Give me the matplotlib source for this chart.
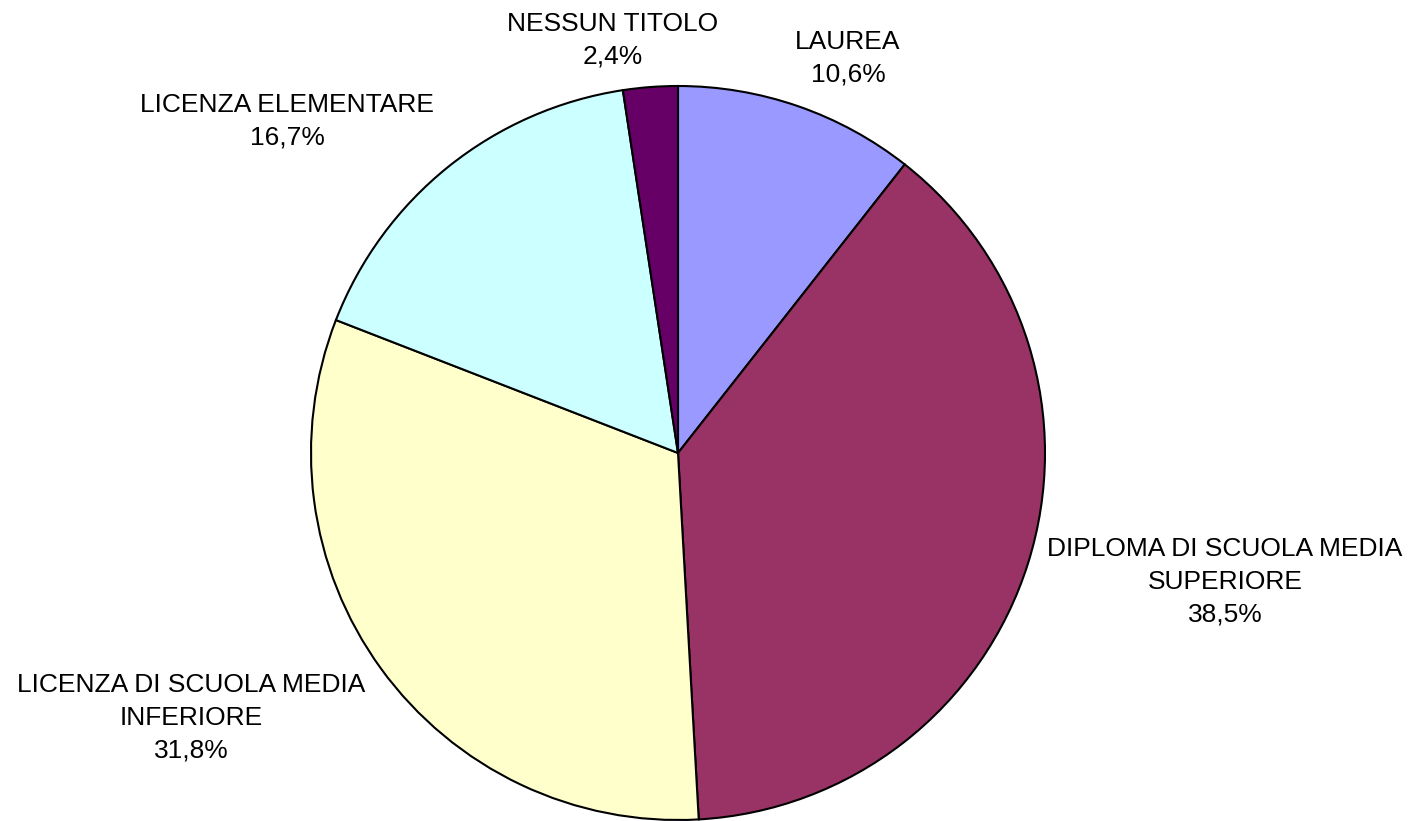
import matplotlib.pyplot as plt

plt.rcParams['font.family'] = ['Liberation Sans', 'DejaVu Sans']

categories = ["LAUREA", "DIPLOMA DI SCUOLA MEDIA\nSUPERIORE", "LICENZA DI SCUOLA MEDIA\nINFERIORE",
              "LICENZA ELEMENTARE", "NESSUN TITOLO"]
shares = [10.6, 38.5, 31.8, 16.7, 2.4]
colours = ["#9999FF", "#993366", "#FFFFCC", "#CCFFFF", "#660066"]

# label centres in pixels of the reference (x, y from top)
label_px = [(848, 58), (1225, 582), (191, 718), (287, 121), (613, 40)]

W, H = 1416, 821
cx, cy, r = 678, 453, 367

fig = plt.figure(figsize=(W / 100, H / 100), dpi=100)
ax = fig.add_axes([(cx - r) / W, (H - cy - r) / H, 2 * r / W, 2 * r / H])

ax.pie(shares, colors=colours, startangle=90, counterclock=False, radius=1,
       wedgeprops=dict(edgecolor="black", linewidth=1.5))

for name, val, (px, py) in zip(categories, shares, label_px):
    txt = "{}\n{:.1f}%".format(name, val).replace(".", ",")
    ax.text((px - cx) / r, (cy - py) / r, txt, ha="center", va="center",
            fontsize=19, linespacing=1.45, clip_on=False)

ax.set_xlim(-1, 1)
ax.set_ylim(-1, 1)
ax.set_aspect("equal")
ax.axis("off")

fig.savefig("out.png", dpi=100)
